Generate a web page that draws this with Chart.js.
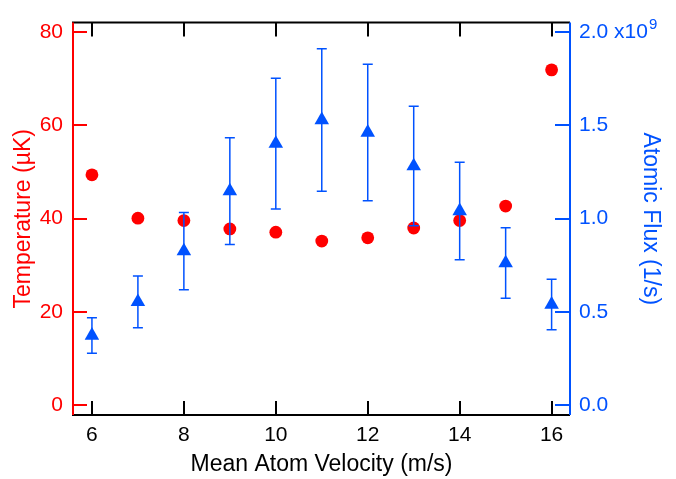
<!DOCTYPE html>
<html>
<head>
<meta charset="utf-8">
<script src="https://cdn.jsdelivr.net/npm/chart.js@4/dist/chart.umd.min.js"></script>
<style>
html,body{margin:0;padding:0;background:#fff}
canvas{display:block}
</style>
</head>
<body>
<canvas id="chart" width="676" height="479"></canvas>
<script>
"use strict"

// mean atom velocity (m/s)
var velocity = [6, 7, 8, 9, 10, 11, 12, 13, 14, 15, 16]
// temperature (uK), left axis
var temperature = [49.4, 40.1, 39.6, 37.8, 37.1, 35.2, 35.9, 38.0, 39.6, 42.7, 71.9]
// atomic flux in units of 1e9 1/s, right axis, with symmetric error
var flux = [0.374, 0.554, 0.826, 1.148, 1.402, 1.529, 1.462, 1.282, 1.041, 0.762, 0.540]
var fluxErr = [0.095, 0.139, 0.207, 0.286, 0.350, 0.382, 0.366, 0.320, 0.261, 0.189, 0.135]

var xTicks = [6, 8, 10, 12, 14, 16]
var tempTicks = [0, 20, 40, 60, 80]
var fluxTicks = [0, 0.5, 1.0, 1.5, 2.0]

var RED = '#ff0000', BLUE = '#0052ff', FONT = "'Liberation Sans', Arial, sans-serif"

function fixTicks(list){
	return function(scale){ scale.ticks = list.map(function(v){ return {value: v} }) }
}

// error bars drawn between the red circles and the blue triangles
var errorBars = {
	id: 'errorBars',
	afterDatasetDraw: function(chart, args){
		if (args.index !== 1) return
		var ctx = chart.ctx, x = chart.scales.x, y = chart.scales.y2
		ctx.save()
		ctx.strokeStyle = BLUE
		ctx.lineWidth = 1.5
		velocity.forEach(function(v, i){
			var px = x.getPixelForValue(v),
			top = y.getPixelForValue(flux[i] + fluxErr[i]),
			bot = y.getPixelForValue(flux[i] - fluxErr[i])
			ctx.beginPath()
			ctx.moveTo(px, top); ctx.lineTo(px, bot)
			ctx.moveTo(px - 5, top); ctx.lineTo(px + 5, top)
			ctx.moveTo(px - 5, bot); ctx.lineTo(px + 5, bot)
			ctx.stroke()
		})
		ctx.restore()
	}
}

// frame, coloured axis lines, inward ticks and the x10^9 exponent
var frame = {
	id: 'frame',
	afterDraw: function(chart){
		var ctx = chart.ctx, a = chart.chartArea,
		x = chart.scales.x, yl = chart.scales.y, yr = chart.scales.y2
		ctx.save()
		ctx.lineWidth = 2
		ctx.strokeStyle = '#000'
		ctx.beginPath()
		ctx.moveTo(a.left - 1, a.top); ctx.lineTo(a.right, a.top)
		ctx.moveTo(a.left - 1, a.bottom); ctx.lineTo(a.right, a.bottom)
		xTicks.forEach(function(v){
			var px = Math.round(x.getPixelForValue(v))
			ctx.moveTo(px, a.top); ctx.lineTo(px, a.top + 14)
			ctx.moveTo(px, a.bottom); ctx.lineTo(px, a.bottom - 14)
		})
		ctx.stroke()

		ctx.strokeStyle = RED
		ctx.beginPath()
		ctx.moveTo(a.left, a.top); ctx.lineTo(a.left, a.bottom)
		tempTicks.forEach(function(v){
			var py = Math.round(yl.getPixelForValue(v))
			ctx.moveTo(a.left, py); ctx.lineTo(a.left + 14, py)
		})
		ctx.stroke()

		ctx.strokeStyle = BLUE
		ctx.beginPath()
		ctx.moveTo(a.right, a.top); ctx.lineTo(a.right, a.bottom)
		fluxTicks.forEach(function(v){
			var py = Math.round(yr.getPixelForValue(v))
			ctx.moveTo(a.right, py); ctx.lineTo(a.right - 15, py)
		})
		ctx.stroke()

		ctx.font = '21px ' + FONT
		var w = ctx.measureText('2.0 x10').width
		ctx.font = '15px ' + FONT
		ctx.fillStyle = BLUE
		ctx.textBaseline = 'middle'
		ctx.fillText('9', a.right + 9 + w + 1, yr.getPixelForValue(2) - 7.5)
		ctx.restore()
	}
}

new Chart(document.getElementById('chart'), {
	type: 'scatter',
	data: {
		datasets: [{
			label: 'Atomic Flux',
			data: velocity.map(function(v, i){ return {x: v, y: flux[i]} }),
			yAxisID: 'y2',
			pointStyle: 'triangle',
			pointRadius: 8.4,
			borderWidth: 0,
			backgroundColor: BLUE,
			borderColor: BLUE
		}, {
			label: 'Temperature',
			data: velocity.map(function(v, i){ return {x: v, y: temperature[i]} }),
			yAxisID: 'y',
			pointStyle: 'circle',
			pointRadius: 6.4,
			borderWidth: 0,
			backgroundColor: RED,
			borderColor: RED
		}]
	},
	options: {
		responsive: false,
		animation: false,
		layout: {padding: {top: 13, left: 0, right: 0, bottom: 0}},
		plugins: {legend: {display: false}, tooltip: {enabled: false}},
		scales: {
			x: {
				type: 'linear', position: 'bottom', min: 5.588, max: 16.40,
				afterBuildTicks: fixTicks(xTicks),
				afterFit: function(s){ s.height = 64 },
				grid: {display: false, drawTicks: false},
				border: {display: false},
				ticks: {color: '#000', font: {size: 21, family: FONT}, padding: 8, maxRotation: 0},
				title: {display: true, text: 'Mean Atom Velocity (m/s)', color: '#000',
					font: {size: 23, family: FONT}, padding: {top: 0, bottom: 1}}
			},
			y: {
				type: 'linear', position: 'left', min: -2.09, max: 82.03,
				afterBuildTicks: fixTicks(tempTicks),
				afterFit: function(s){ s.width = 73 },
				grid: {display: false, drawTicks: false},
				border: {display: false},
				ticks: {color: RED, font: {size: 21, family: FONT}, padding: 10},
				title: {display: true, text: 'Temperature (µK)', color: RED,
					font: {size: 23, family: FONT}, padding: {top: 9.5, bottom: 0}}
			},
			y2: {
				type: 'linear', position: 'right', min: -0.0523, max: 2.0508,
				afterBuildTicks: fixTicks(fluxTicks),
				afterFit: function(s){ s.width = 106 },
				grid: {display: false, drawTicks: false},
				border: {display: false},
				ticks: {color: BLUE, font: {size: 21, family: FONT}, padding: 9,
					callback: function(v){ return v === 2 ? '2.0 x10' : v.toFixed(1) }},
				title: {display: true, text: 'Atomic Flux (1/s)', color: BLUE,
					font: {size: 23, family: FONT}, padding: {top: 12.2, bottom: 0}}
			}
		}
	},
	plugins: [errorBars, frame]
})
</script>
</body>
</html>
